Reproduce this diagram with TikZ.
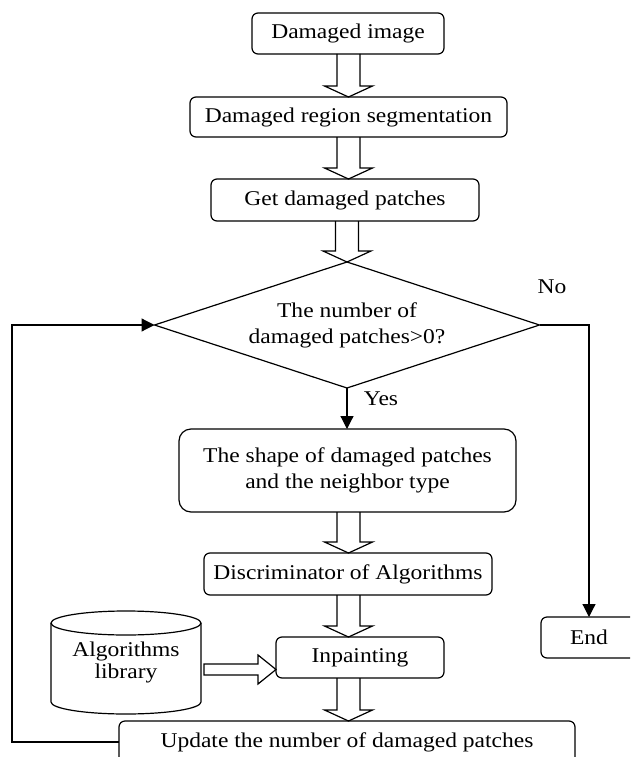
\documentclass[tikz,border=0pt]{standalone}
\usepackage{fontspec}
\setmainfont{Liberation Serif}[FakeStretch=1.12]
\usetikzlibrary{arrows.meta,calc,shapes.geometric}
\newcommand{\fatdown}[3]{%
  \draw[fat] ($(#1.south -| #3)+(-11.5,0)$) -- ($(#2.north -| #3)+(-11.5,-11)$)
    -- ($(#2.north -| #3)+(-24,-11)$) -- (#2.north -| #3)
    -- ($(#2.north -| #3)+(24,-11)$) -- ($(#2.north -| #3)+(11.5,-11)$)
    -- ($(#1.south -| #3)+(11.5,0)$);}
\begin{document}
\begin{tikzpicture}[x=1pt,y=-1pt,
  every node/.style={font=\fontsize{21}{26}\selectfont, inner sep=0pt, outer sep=0pt},
  box/.style={draw, rounded corners=6pt, line width=1.2pt},
  line/.style={line width=1.2pt},
  arr/.style={line width=1.2pt, -{Triangle[length=13pt,width=13pt]}},
  fat/.style={draw, line width=1.2pt, line join=miter}]
\useasboundingbox (0,0) rectangle (630,757);
\clip (0,0) rectangle (630,757);

\coordinate (ax) at (348.5,0);
\coordinate (axd) at (347,0);

\node[box, minimum width=192pt, minimum height=41pt] (b1) at (348,33.5) {Damaged image};
\node[box, minimum width=317pt, minimum height=40pt] (b2) at (348.5,117) {Damaged region segmentation};
\node[box, minimum width=268pt, minimum height=42pt] (b3) at (345,200) {Get damaged patches};
\node[draw, diamond, line width=1.2pt, shape aspect=3.06, minimum width=385pt, minimum height=126pt, align=center] (dec) at (347,325) {The number of\\damaged patches>0?};
\node[box, rounded corners=12pt, minimum width=337pt, minimum height=83pt, align=center] (b4) at (347.5,470.5) {The shape of damaged patches\\and the neighbor type};
\node[box, minimum width=288pt, minimum height=42pt] (b5) at (348,574) {Discriminator of Algorithms};
\node[box, minimum width=168pt, minimum height=41pt] (b6) at (360,657.5) {Inpainting};
\node[box, minimum width=456pt, minimum height=42pt] (b7) at (347,742) {Update the number of damaged patches};
\node[box, minimum width=96pt, minimum height=41pt] (end) at (589,637.5) {End};

% database cylinder
\draw[line] (126,623) ellipse [x radius=75, y radius=12];
\draw[line] (51,623) -- (51,702) arc[start angle=180, end angle=0, x radius=75, y radius=12] -- (201,623);
\node[align=center, font=\fontsize{21}{22}\selectfont, minimum width=150pt, minimum height=103pt] (lib) at (126,662.5) {Algorithms\\library};

% hollow arrows
\fatdown{b1}{b2}{ax}
\fatdown{b2}{b3}{ax}
\fatdown{b3}{dec}{axd}
\fatdown{b4}{b5}{ax}
\fatdown{b5}{b6}{ax}
\fatdown{b6}{b7}{ax}
\draw[fat] ($(lib.east)+(3,1.5)$) -- ($(b6.west)+(-18,6.5)$) -- ($(b6.west)+(-18,-2.5)$)
  -- ($(b6.west)+(0,12)$) -- ($(b6.west)+(-18,26.5)$) -- ($(b6.west)+(-18,17.5)$)
  -- ($(lib.east)+(3,12.5)$) -- cycle;

% connectors
\draw[arr] (dec.south) -- (dec.south |- b4.north);
\draw[arr] (dec.east) -- (dec.east -| end) -- (end.north);
\draw[arr] (b7.west) -- ++(-107,0) |- (dec.west);

\node (no) at (552,287) {No};
\node (yes) at (381,399) {Yes};
\end{tikzpicture}
\end{document}
